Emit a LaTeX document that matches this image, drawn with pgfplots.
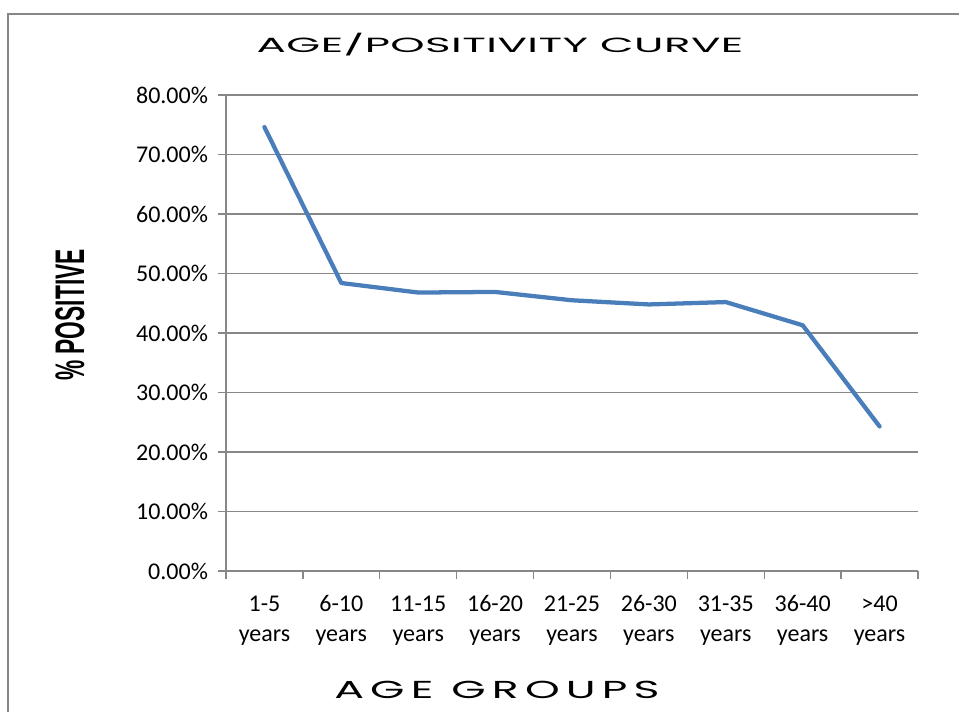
\documentclass[border=0pt]{standalone}
\usepackage{pgfplots}
\pgfplotsset{compat=1.18}
\usepackage{fontspec}
\setmainfont{Carlito}
\newfontfamily\widefont[LetterSpace=1]{Poppins}
\newfontfamily\widerfont[LetterSpace=14]{Poppins}
\newfontfamily\boldfont{Liberation Sans}
\definecolor{linec}{HTML}{4A7EBB}
\definecolor{gridc}{HTML}{878787}
\begin{document}
\begin{tikzpicture}
\useasboundingbox (-169.5pt,-105pt) rectangle (549.75pt,428.25pt);
\draw[gridc, line width=1.2pt] (-163.5pt,-106pt) -- (-163.5pt,417.75pt) -- (552pt,417.75pt);
\begin{axis}[
  at={(0pt,0pt)}, anchor=south west,
  scale only axis, width=519pt, height=357pt,
  xmin=0.5, xmax=9.5, ymin=0, ymax=80,
  axis x line=bottom, axis y line=left,
  axis line style={gridc, line width=1pt, -},
  xtick={1,...,9},
  xticklabels={{1-5\\years},{6-10\\years},{11-15\\years},{16-20\\years},{21-25\\years},{26-30\\years},{31-35\\years},{36-40\\years},{>40\\years}},
  xticklabel style={align=center, font=\fontsize{18}{22.5}\selectfont, yshift=-9pt},
  major x tick style={draw=none},
  minor xtick={0.5,1.5,...,9.5},
  minor x tick style={gridc, line width=1pt},
  minor tick length=6pt,
  ytick={0,10,...,80},
  ymajorgrids, major grid style={gridc, line width=1pt},
  major y tick style={gridc, line width=1pt},
  major tick length=6pt,
  tick align=outside,
  yticklabel={\pgfmathprintnumber[fixed,fixed zerofill,precision=2]{\tick}\%},
  yticklabel style={font=\fontsize{18}{22}\selectfont, xshift=-4pt},
  /pgf/number format/assume math mode=true,
  clip=false,
]
\addplot[linec, line width=3.2pt, line join=round, line cap=round] coordinates {
(1,74.6) (2,48.4) (3,46.8) (4,46.9) (5,45.5) (6,44.8) (7,45.2) (8,41.3) (9,24.3)
};
\end{axis}
\node at (205.5pt,394.5pt) {\resizebox{365pt}{14.5pt}{\widefont\fontsize{17}{20}\selectfont AGE/POSITIVITY CURVE}};
\node at (203.25pt,-89.25pt) {\resizebox{244pt}{13pt}{\widerfont\fontsize{17}{20}\selectfont AGE GROUPS}};
\node[rotate=90] at (-117pt,192pt) {\scalebox{0.55}[1]{\boldfont\bfseries\fontsize{31}{34}\selectfont \% POSITIVE}};
\end{tikzpicture}
\end{document}
